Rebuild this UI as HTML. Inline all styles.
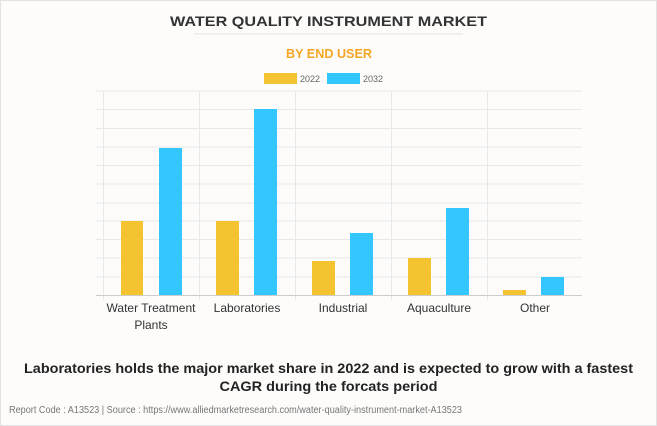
<!DOCTYPE html>
<html><head><style>
html,body{margin:0;padding:0;background:#fff;}
svg{display:block;}
text{font-family:"Liberation Sans",Arial,sans-serif;}
</style></head><body>
<svg width="657" height="426" viewBox="0 0 657 426" xmlns="http://www.w3.org/2000/svg">
<rect x="0.5" y="0.5" width="656" height="425" fill="#fdfcfb" stroke="#e2e2e2"/>
<text x="328.5" y="26" text-anchor="middle" font-size="14" font-weight="bold" fill="#333" textLength="317" lengthAdjust="spacingAndGlyphs">WATER QUALITY INSTRUMENT MARKET</text>
<rect x="194" y="33" width="269" height="1.5" fill="#ececec"/>
<text x="329" y="58" text-anchor="middle" font-size="13" font-weight="bold" fill="#f5a623" textLength="86" lengthAdjust="spacingAndGlyphs">BY END USER</text>
<rect x="264" y="73" width="33" height="11" fill="#f4c430"/>
<text x="300" y="82" font-size="9" fill="#666">2022</text>
<rect x="327" y="73" width="33" height="11" fill="#33c6ff"/>
<text x="363" y="82" font-size="9" fill="#666">2032</text>
<g stroke="#e8e8e8" stroke-width="1">
<line x1="96" y1="91" x2="582" y2="91"/><line x1="96" y1="109.5" x2="582" y2="109.5"/>
<line x1="96" y1="128.5" x2="582" y2="128.5"/><line x1="96" y1="147" x2="582" y2="147"/>
<line x1="96" y1="165.5" x2="582" y2="165.5"/><line x1="96" y1="184" x2="582" y2="184"/>
<line x1="96" y1="203" x2="582" y2="203"/><line x1="96" y1="221" x2="582" y2="221"/>
<line x1="96" y1="239.5" x2="582" y2="239.5"/><line x1="96" y1="258" x2="582" y2="258"/>
<line x1="96" y1="277" x2="582" y2="277"/>
<line x1="103.5" y1="91" x2="103.5" y2="300"/><line x1="199.5" y1="91" x2="199.5" y2="300"/>
<line x1="295.5" y1="91" x2="295.5" y2="300"/><line x1="391.5" y1="91" x2="391.5" y2="300"/>
<line x1="487.5" y1="91" x2="487.5" y2="300"/>
</g>
<line x1="96" y1="295.5" x2="582" y2="295.5" stroke="#ccc"/>
<g fill="#f4c430">
<rect x="121" y="221" width="22" height="74"/>
<rect x="216" y="221" width="23" height="74"/>
<rect x="312" y="261" width="23" height="34"/>
<rect x="408" y="258" width="23" height="37"/>
<rect x="503" y="290" width="23" height="5"/>
</g>
<g fill="#33c6ff">
<rect x="159" y="148" width="23" height="147"/>
<rect x="254" y="109" width="23" height="186"/>
<rect x="350" y="233" width="23" height="62"/>
<rect x="446" y="208" width="23" height="87"/>
<rect x="541" y="277" width="23" height="18"/>
</g>
<g font-size="12" fill="#333" text-anchor="middle">
<text x="151" y="312">Water Treatment</text>
<text x="151" y="329">Plants</text>
<text x="247" y="312">Laboratories</text>
<text x="343" y="312">Industrial</text>
<text x="439" y="312">Aquaculture</text>
<text x="535" y="312">Other</text>
</g>
<text x="328.5" y="373" text-anchor="middle" font-size="14" font-weight="bold" fill="#222" textLength="609" lengthAdjust="spacingAndGlyphs">Laboratories holds the major market share in 2022 and is expected to grow with a fastest</text>
<text x="328.5" y="391" text-anchor="middle" font-size="14" font-weight="bold" fill="#222" textLength="218" lengthAdjust="spacingAndGlyphs">CAGR during the forcats period</text>
<text x="9" y="413" font-size="10" fill="#777" textLength="453" lengthAdjust="spacingAndGlyphs">Report Code : A13523  |  Source : https://www.alliedmarketresearch.com/water-quality-instrument-market-A13523</text>
</svg>
</body></html>
